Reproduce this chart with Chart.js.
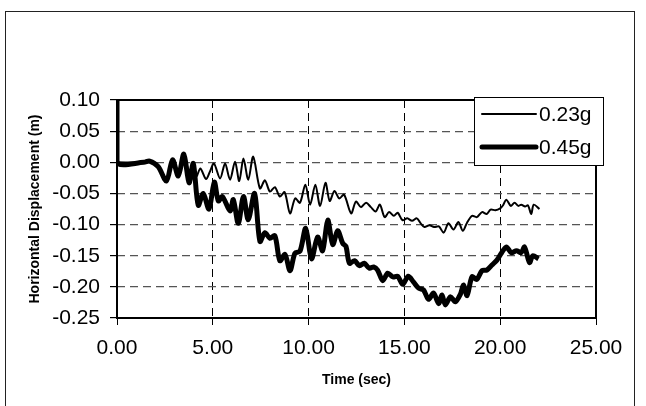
<!DOCTYPE html>
<html>
<head>
<meta charset="utf-8">
<script src="https://cdn.jsdelivr.net/npm/chart.js@4"></script>
<style>
  body { margin: 0; background: #fff; }
  #wrap { position: relative; width: 646px; height: 406px; }
</style>
</head>
<body>
<div id="wrap"><canvas id="chart" width="646" height="406"></canvas></div>
<script>
// series labels
const seriesNames = ['0.23g', '0.45g'];

// 0.23g record (time in sec, displacement in m)
const time23 = [0, 1.4, 1.7, 2.15, 2.58, 2.9, 3.23, 3.49, 3.76, 3.95, 4.15, 4.35, 4.65, 4.85,
  5.06, 5.38, 5.64, 5.9, 6.16, 6.38, 6.6, 6.85, 7.11, 7.46, 7.72, 7.98, 8.24, 8.5, 8.75, 9.03,
  9.3, 9.55, 9.83, 10.08, 10.35, 10.6, 10.88, 11.1, 11.35, 11.6, 11.85, 12.22, 12.47, 12.73,
  13.0, 13.25, 13.5, 13.72, 13.97, 14.2, 14.45, 14.65, 14.9, 15.15, 15.4, 15.65, 15.85, 16.05,
  16.3, 16.55, 16.8, 17.05, 17.3, 17.56, 17.82, 18.05, 18.27, 18.53, 18.78, 19.05, 19.3, 19.5,
  19.75, 20.0, 20.15, 20.32, 20.55, 20.75, 20.95, 21.1, 21.3, 21.45, 21.62, 21.75, 22.05];
const disp23 = [0, 0, 0.003, -0.006, -0.028, 0.003, -0.018, 0.012, -0.015, -0.004, -0.022, -0.01, -0.027, -0.015,
  -0.002, -0.026, -0.002, -0.028, 0.001, -0.03, 0.006, -0.028, 0.009, -0.042, -0.029, -0.047, -0.04, -0.055, -0.048, -0.082,
  -0.058, -0.065, -0.036, -0.068, -0.036, -0.07, -0.033, -0.062, -0.046, -0.058, -0.052, -0.082, -0.063, -0.072,
  -0.065, -0.072, -0.079, -0.068, -0.088, -0.08, -0.086, -0.081, -0.093, -0.09, -0.094, -0.09, -0.098, -0.104,
  -0.101, -0.104, -0.103, -0.113, -0.098, -0.108, -0.096, -0.11, -0.097, -0.086, -0.088, -0.08, -0.083, -0.076,
  -0.077, -0.074, -0.069, -0.06, -0.07, -0.065, -0.07, -0.068, -0.071, -0.069, -0.083, -0.068, -0.075];

// 0.45g record
const time45 = [0, 0, 1.4, 1.7, 2.15, 2.58, 2.9, 3.2, 3.49, 3.76, 3.98, 4.24, 4.5, 4.8, 5.08, 5.29, 5.5,
  5.9, 6.07, 6.33, 6.6, 6.85, 7.18, 7.46, 7.72, 7.98, 8.24, 8.5, 8.77, 9.03, 9.29, 9.55, 9.85, 10.15,
  10.47, 10.73, 11.0, 11.26, 11.52, 11.78, 11.95, 12.13, 12.4, 12.65, 12.9, 13.17, 13.4, 13.6, 13.87,
  14.13, 14.4, 14.65, 14.91, 15.2, 15.47, 15.74, 16.0, 16.26, 16.52, 16.79, 16.96, 17.14, 17.4, 17.66,
  17.92, 18.09, 18.27, 18.53, 18.78, 19.05, 19.31, 19.57, 19.83, 20.06, 20.32, 20.58, 20.85, 21.1,
  21.27, 21.53, 21.7, 22.0];
const disp45 = [0.1, 0, 0, 0.002, -0.007, -0.03, 0.004, -0.022, 0.013, -0.033, -0.002, -0.069, -0.05, -0.075, -0.032, -0.062, -0.055,
  -0.078, -0.06, -0.098, -0.055, -0.092, -0.05, -0.127, -0.113, -0.122, -0.118, -0.158, -0.148, -0.174, -0.146, -0.143, -0.106, -0.155,
  -0.12, -0.142, -0.093, -0.132, -0.11, -0.13, -0.135, -0.162, -0.158, -0.166, -0.162, -0.17, -0.168, -0.173, -0.19,
  -0.178, -0.184, -0.183, -0.196, -0.183, -0.192, -0.202, -0.205, -0.22, -0.21, -0.227, -0.213, -0.229, -0.216, -0.224,
  -0.212, -0.197, -0.214, -0.184, -0.188, -0.174, -0.173, -0.165, -0.157, -0.146, -0.136, -0.145, -0.142, -0.145,
  -0.136, -0.161, -0.15, -0.155];

// axis ranges / ticks
const xTicks = [0, 5, 10, 15, 20, 25];
const yTicks = [0.10, 0.05, 0.00, -0.05, -0.10, -0.15, -0.20, -0.25];

const toPoints = (xs, ys) => xs.map((x, i) => ({ x: x, y: ys[i] }));
const fmt = v => (Math.abs(v) < 1e-9 ? 0 : v).toFixed(2);

Chart.defaults.font.family = '"Liberation Sans", Arial, sans-serif';
Chart.defaults.color = '#000';

// outer frame, plot frame and legend box
const decor = {
  id: 'decor',
  beforeDraw(chart) {
    const ctx = chart.ctx;
    ctx.save();
    ctx.fillStyle = '#fff';
    ctx.fillRect(0, 0, chart.width, chart.height);
    ctx.strokeStyle = '#222';
    ctx.lineWidth = 1;
    ctx.strokeRect(5.5, 11.5, 629, 420);
    ctx.restore();
  },
  beforeDatasetsDraw(chart) {
    const { ctx, chartArea: a } = chart;
    ctx.save();
    ctx.strokeStyle = '#000';
    ctx.lineWidth = 2;
    ctx.strokeRect(a.left, a.top, a.right - a.left, a.bottom - a.top);
    ctx.restore();
  },
  afterDraw(chart) {
    const ctx = chart.ctx;
    const box = { x: 474.5, y: 97.5, w: 129, h: 68 };
    ctx.save();
    ctx.fillStyle = '#fff';
    ctx.fillRect(box.x, box.y, box.w, box.h);
    ctx.strokeStyle = '#000';
    ctx.lineWidth = 1;
    ctx.strokeRect(box.x, box.y, box.w, box.h);
    ctx.font = '21px "Liberation Sans", Arial, sans-serif';
    ctx.fillStyle = '#000';
    ctx.textBaseline = 'alphabetic';
    chart.data.datasets.forEach((ds, i) => {
      const y = 114 + i * 33;
      ctx.beginPath();
      ctx.lineWidth = ds.borderWidth;
      ctx.lineCap = 'round';
      ctx.moveTo(482, y);
      ctx.lineTo(536, y);
      ctx.stroke();
      ctx.fillText(ds.label, 539, y + 7);
    });
    ctx.restore();
  }
};

new Chart(document.getElementById('chart'), {
  type: 'line',
  data: {
    datasets: [
      {
        label: seriesNames[0],
        data: toPoints(time23, disp23),
        borderColor: '#000',
        borderWidth: 2,
        pointRadius: 0,
        tension: 0.3,
        fill: false
      },
      {
        label: seriesNames[1],
        data: toPoints(time45, disp45),
        borderColor: '#000',
        borderWidth: 5,
        pointRadius: 0,
        tension: 0.3,
        borderJoinStyle: 'round',
        fill: false
      }
    ]
  },
  options: {
    responsive: false,
    animation: false,
    layout: { padding: { left: 20, top: 100, right: 50, bottom: 10 } },
    plugins: {
      legend: { display: false },
      tooltip: { enabled: false }
    },
    scales: {
      x: {
        type: 'linear',
        min: xTicks[0],
        max: xTicks[xTicks.length - 1],
        afterBuildTicks: s => { s.ticks = xTicks.map(v => ({ value: v })); },
        afterFit: s => { s.height = 78; },
        ticks: { callback: fmt, font: { size: 21 }, padding: 11, maxRotation: 0 },
        grid: { color: '#000', lineWidth: 1, tickLength: 7, tickColor: '#000', tickBorderDash: [] },
        border: { display: false, dash: [8, 5] },
        title: { display: true, text: 'Time (sec)', font: { size: 14, weight: 'bold' }, padding: { top: 0, bottom: 7 } }
      },
      y: {
        min: yTicks[yTicks.length - 1],
        max: yTicks[0],
        afterBuildTicks: s => { s.ticks = yTicks.slice().reverse().map(v => ({ value: v })); },
        afterFit: s => { s.width = 97; },
        ticks: { callback: fmt, font: { size: 21 }, padding: 10 },
        grid: { color: '#555', lineWidth: 1.2, tickLength: 7, tickColor: '#000', tickBorderDash: [] },
        border: { display: false, dash: [8, 5] },
        title: { display: true, text: 'Horizontal Displacement (m)', font: { size: 14, weight: 'bold' }, padding: { top: 7, bottom: 0 } }
      }
    }
  },
  plugins: [decor]
});
</script>
</body>
</html>
